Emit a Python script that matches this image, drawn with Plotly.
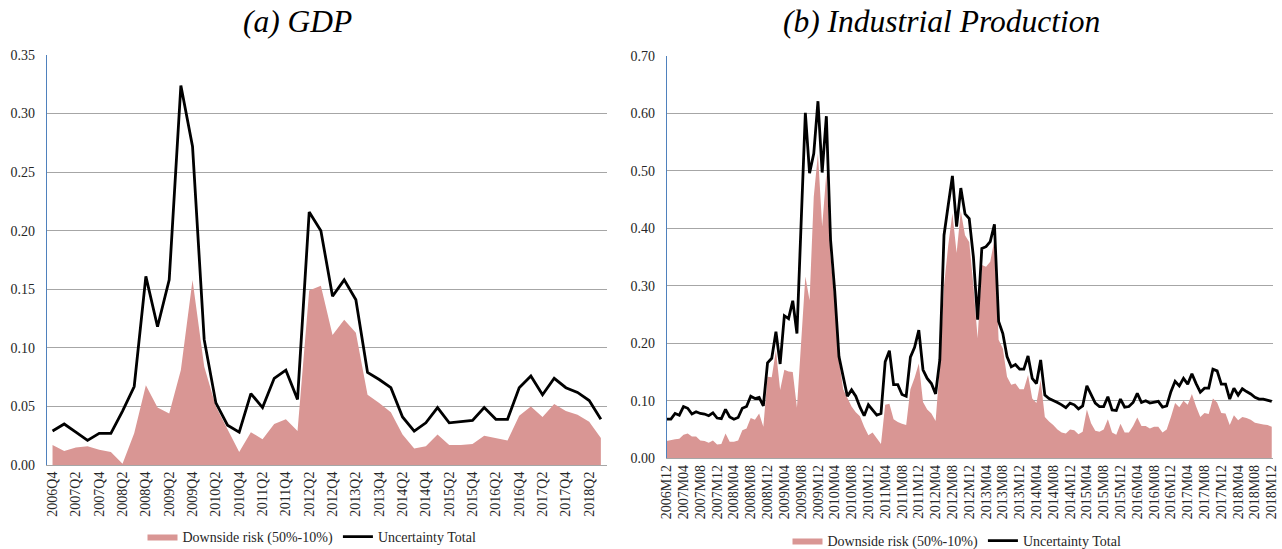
import plotly.graph_objects as go

# ---- (a) GDP, quarterly 2006Q4 - 2018Q3 ----
gdp_quarters = [f"{y}Q{q}" for y in range(2006, 2019) for q in range(1, 5)][3:51]
gdp_total = [0.029, 0.035, 0.028, 0.021, 0.027, 0.027, 0.046, 0.067, 0.161, 0.118,
             0.158, 0.324, 0.272, 0.107, 0.053, 0.034, 0.028, 0.061, 0.049, 0.074,
             0.081, 0.056, 0.216, 0.200, 0.144, 0.158, 0.141, 0.079, 0.073, 0.066,
             0.041, 0.029, 0.036, 0.049, 0.036, 0.037, 0.038, 0.049, 0.039, 0.039,
             0.066, 0.076, 0.060, 0.074, 0.066, 0.062, 0.055, 0.039]
gdp_downside = [0.017, 0.012, 0.015, 0.016, 0.013, 0.011, 0.001, 0.027, 0.068, 0.049,
                0.044, 0.081, 0.158, 0.084, 0.050, 0.030, 0.011, 0.028, 0.022, 0.035,
                0.039, 0.029, 0.149, 0.153, 0.111, 0.124, 0.113, 0.060, 0.053, 0.045,
                0.026, 0.014, 0.016, 0.026, 0.017, 0.017, 0.018, 0.025, 0.023, 0.021,
                0.042, 0.050, 0.041, 0.052, 0.046, 0.043, 0.037, 0.023]

# ---- (b) Industrial Production, monthly 2006M12 - 2018M12 ----
ip_months = [f"{y}M{m:02d}" for y in range(2006, 2019) for m in range(1, 13)][11:]
ip_total = [0.068, 0.068, 0.078, 0.075, 0.090, 0.087, 0.077, 0.081, 0.078, 0.077,
            0.074, 0.079, 0.070, 0.069, 0.085, 0.072, 0.068, 0.071, 0.087, 0.090,
            0.108, 0.104, 0.106, 0.091, 0.166, 0.174, 0.220, 0.164, 0.248, 0.243,
            0.274, 0.217, 0.410, 0.601, 0.496, 0.530, 0.621, 0.497, 0.595, 0.380,
            0.290, 0.177, 0.142, 0.108, 0.119, 0.108, 0.089, 0.074, 0.093, 0.084,
            0.075, 0.078, 0.168, 0.187, 0.128, 0.128, 0.111, 0.108, 0.176, 0.193,
            0.223, 0.154, 0.139, 0.130, 0.112, 0.171, 0.388, 0.440, 0.491, 0.403,
            0.470, 0.425, 0.417, 0.350, 0.241, 0.365, 0.368, 0.377, 0.407, 0.238,
            0.217, 0.177, 0.159, 0.163, 0.155, 0.155, 0.178, 0.139, 0.130, 0.171,
            0.110, 0.104, 0.101, 0.097, 0.093, 0.088, 0.096, 0.093, 0.086, 0.091,
            0.126, 0.110, 0.096, 0.090, 0.090, 0.107, 0.084, 0.083, 0.103, 0.089,
            0.090, 0.097, 0.113, 0.097, 0.100, 0.096, 0.097, 0.099, 0.089, 0.091,
            0.116, 0.134, 0.126, 0.139, 0.129, 0.147, 0.130, 0.115, 0.122, 0.122,
            0.155, 0.152, 0.129, 0.129, 0.103, 0.122, 0.110, 0.121, 0.116, 0.112,
            0.106, 0.103, 0.103, 0.101, 0.099]
ip_downside = [0.030, 0.032, 0.033, 0.034, 0.041, 0.043, 0.038, 0.038, 0.031, 0.030,
               0.027, 0.031, 0.024, 0.025, 0.043, 0.029, 0.029, 0.031, 0.049, 0.052,
               0.070, 0.067, 0.078, 0.055, 0.142, 0.141, 0.188, 0.119, 0.154, 0.151,
               0.150, 0.088, 0.200, 0.316, 0.275, 0.455, 0.530, 0.403, 0.496, 0.350,
               0.270, 0.170, 0.120, 0.105, 0.090, 0.080, 0.073, 0.055, 0.040, 0.045,
               0.035, 0.025, 0.093, 0.095, 0.068, 0.063, 0.060, 0.058, 0.120, 0.140,
               0.165, 0.098, 0.085, 0.078, 0.065, 0.160, 0.300, 0.370, 0.426, 0.357,
               0.430, 0.388, 0.376, 0.300, 0.209, 0.336, 0.333, 0.342, 0.380, 0.206,
               0.191, 0.142, 0.128, 0.130, 0.120, 0.120, 0.145, 0.104, 0.096, 0.136,
               0.072, 0.064, 0.058, 0.050, 0.045, 0.043, 0.050, 0.049, 0.042, 0.046,
               0.085, 0.061, 0.048, 0.046, 0.050, 0.068, 0.045, 0.041, 0.060, 0.045,
               0.045, 0.056, 0.071, 0.056, 0.056, 0.052, 0.055, 0.055, 0.045, 0.050,
               0.072, 0.096, 0.089, 0.100, 0.093, 0.112, 0.090, 0.072, 0.079, 0.077,
               0.104, 0.097, 0.079, 0.078, 0.058, 0.075, 0.066, 0.072, 0.070, 0.067,
               0.062, 0.060, 0.059, 0.058, 0.055]

downside_name = "Downside risk (50%-10%)"
total_name = "Uncertainty Total"

W, H = 1282, 549
FONT = "Liberation Serif"
PINK = "#D99694"
GRID = "#A6A6A6"

fig = go.Figure()

# left panel
fig.add_trace(go.Scatter(x=gdp_quarters, y=gdp_downside, name=downside_name,
                         mode="lines", line=dict(width=0, color=PINK),
                         fill="tozeroy", fillcolor=PINK,
                         xaxis="x", yaxis="y", legend="legend"))
fig.add_trace(go.Scatter(x=gdp_quarters, y=gdp_total, name=total_name,
                         mode="lines", line=dict(width=2.8, color="black"),
                         xaxis="x", yaxis="y", legend="legend"))
# right panel
fig.add_trace(go.Scatter(x=ip_months, y=ip_downside, name=downside_name,
                         mode="lines", line=dict(width=0, color=PINK),
                         fill="tozeroy", fillcolor=PINK,
                         xaxis="x2", yaxis="y2", legend="legend2"))
fig.add_trace(go.Scatter(x=ip_months, y=ip_total, name=total_name,
                         mode="lines", line=dict(width=2.8, color="black"),
                         xaxis="x2", yaxis="y2", legend="legend2"))

tickfont = dict(family=FONT, size=14, color="#262626")

xcommon = dict(type="category", showgrid=False, showline=True, linecolor=GRID,
               linewidth=1, ticks="", tickangle=-90, tickfont=tickfont,
               zeroline=False, automargin=False)
ycommon = dict(showgrid=True, gridcolor=GRID, gridwidth=1, showline=True,
               linecolor="#4F81BD", linewidth=1, ticks="", tickfont=tickfont,
               tickformat=".2f", zeroline=False, ticklabelstandoff=8,
               automargin=False)

fig.update_layout(
    width=W, height=H,
    margin=dict(l=0, r=0, t=0, b=0, autoexpand=False),
    paper_bgcolor="white", plot_bgcolor="white",
    font=dict(family=FONT, size=14, color="#262626"),
    xaxis=dict(**xcommon, domain=[46.7 / W, 606.7 / W], anchor="y",
               range=[-0.5, len(gdp_quarters) - 0.5],
               tickvals=gdp_quarters[::2], ticktext=gdp_quarters[::2]),
    yaxis=dict(**ycommon, domain=[(H - 465) / H, (H - 55) / H], anchor="x",
               range=[0, 0.35], dtick=0.05),
    xaxis2=dict(**xcommon, domain=[666.7 / W, 1273 / W], anchor="y2",
                range=[0, len(ip_months) - 0.7],
                tickvals=ip_months[::4], ticktext=ip_months[::4]),
    yaxis2=dict(**ycommon, domain=[(H - 458.3) / H, (H - 55.8) / H], anchor="x2",
                range=[0, 0.70], dtick=0.10),
    legend=dict(orientation="h", x=312 / W, xanchor="center", y=(H - 537) / H,
                yanchor="middle", font=dict(family=FONT, size=14, color="#262626"),
                bgcolor="rgba(0,0,0,0)", traceorder="normal"),
    legend2=dict(orientation="h", x=957 / W, xanchor="center", y=(H - 541) / H,
                 yanchor="middle", font=dict(family=FONT, size=14, color="#262626"),
                 bgcolor="rgba(0,0,0,0)", traceorder="normal"),
    showlegend=True,
    annotations=[
        dict(text="(a) GDP", x=297 / W, y=(H - 22) / H, xref="paper", yref="paper",
             showarrow=False, xanchor="center", yanchor="middle",
             font=dict(family=FONT, size=31.5, color="black", style="italic")),
        dict(text="(b) Industrial Production", x=941 / W, y=(H - 22) / H,
             xref="paper", yref="paper", showarrow=False, xanchor="center",
             yanchor="middle",
             font=dict(family=FONT, size=31.5, color="black", style="italic")),
    ],
)

fig.write_html("out.html")
